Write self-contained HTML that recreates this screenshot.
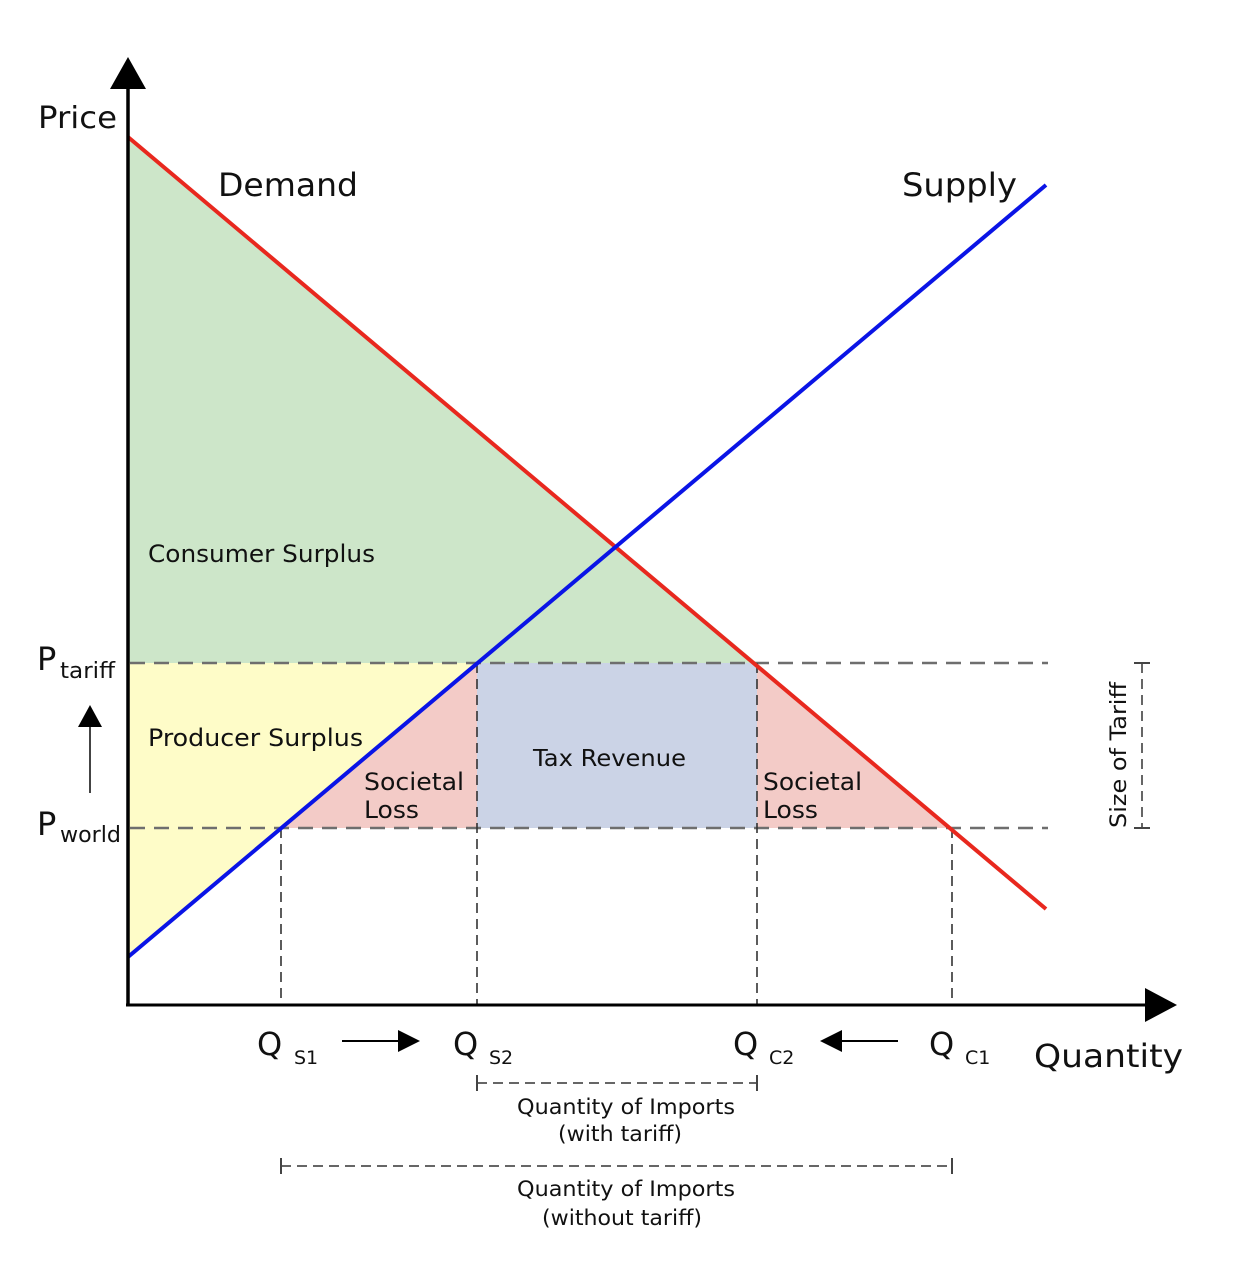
<!DOCTYPE html>
<html><head><meta charset="utf-8"><style>
html,body{margin:0;padding:0;background:#fff;}
svg{display:block;}
text{font-family:"DejaVu Sans","Liberation Sans",sans-serif;fill:#111;}
</style></head><body>
<svg width="1238" height="1274" viewBox="0 0 1238 1274" xmlns="http://www.w3.org/2000/svg">
<rect width="1238" height="1274" fill="#fff"/>
<polygon points="128,137 757,663 128,663" fill="#cde6c9"/>
<polygon points="128,663 477,663 128,957" fill="#fefcc8"/>
<polygon points="281,828 477,663 477,828" fill="#f3cbc7"/>
<rect x="477" y="663" width="280" height="165" fill="#cbd3e6"/>
<polygon points="757,663 950,828 757,828" fill="#f3cbc7"/>
<g stroke="#6e6e6e" stroke-width="2.5" stroke-dasharray="15,9" fill="none">
<line x1="130" y1="663" x2="1048" y2="663"/>
<line x1="130" y1="828" x2="1048" y2="828"/>
</g>
<g stroke="#333" stroke-width="1.6" stroke-dasharray="10,6" fill="none">
<line x1="281" y1="828" x2="281" y2="1005"/>
<line x1="477" y1="663" x2="477" y2="1005"/>
<line x1="757" y1="663" x2="757" y2="1005"/>
<line x1="952" y1="828" x2="952" y2="1005"/>
</g>
<line x1="128" y1="137" x2="1046" y2="909" stroke="#e8281e" stroke-width="4"/>
<line x1="128" y1="957" x2="1046" y2="185" stroke="#0a14e6" stroke-width="4"/>
<line x1="128" y1="80" x2="128" y2="1006" stroke="#000" stroke-width="3.5"/>
<line x1="126" y1="1005" x2="1150" y2="1005" stroke="#000" stroke-width="3"/>
<polygon points="128,57 146,89 110,89" fill="#000"/>
<polygon points="1177,1005 1145,988 1145,1022" fill="#000"/>
<line x1="90" y1="793" x2="90" y2="722" stroke="#444" stroke-width="2"/>
<polygon points="90,705 102,727 78,727" fill="#000"/>
<line x1="342" y1="1041" x2="402" y2="1041" stroke="#000" stroke-width="2"/>
<polygon points="420,1041 398,1030 398,1052" fill="#000"/>
<line x1="898" y1="1041" x2="838" y2="1041" stroke="#000" stroke-width="2"/>
<polygon points="820,1041 842,1030 842,1052" fill="#000"/>
<g stroke="#666" stroke-width="2" fill="none">
<line x1="477" y1="1083" x2="757" y2="1083" stroke-dasharray="10,6"/>
<line x1="281" y1="1166" x2="952" y2="1166" stroke-dasharray="10,6"/>
<line x1="1142" y1="663" x2="1142" y2="828" stroke-dasharray="10,6"/>
</g>
<g stroke="#444" stroke-width="2">
<line x1="477" y1="1075" x2="477" y2="1091"/><line x1="757" y1="1075" x2="757" y2="1091"/>
<line x1="281" y1="1158" x2="281" y2="1174"/><line x1="952" y1="1158" x2="952" y2="1174"/>
<line x1="1134" y1="663" x2="1150" y2="663"/><line x1="1134" y1="828" x2="1150" y2="828"/>
</g>
<g lengthAdjust="spacingAndGlyphs">
<text x="38" y="128" font-size="30" textLength="79" lengthAdjust="spacingAndGlyphs">Price</text>
<text x="218" y="196" font-size="32" textLength="140" lengthAdjust="spacingAndGlyphs">Demand</text>
<text x="902" y="196" font-size="32" textLength="115" lengthAdjust="spacingAndGlyphs">Supply</text>
<text x="148" y="562" font-size="24" textLength="227" lengthAdjust="spacingAndGlyphs">Consumer Surplus</text>
<text x="148" y="746" font-size="24" textLength="215" lengthAdjust="spacingAndGlyphs">Producer Surplus</text>
<text x="364" y="790" font-size="24" textLength="100" lengthAdjust="spacingAndGlyphs">Societal</text>
<text x="364" y="818" font-size="24" textLength="55" lengthAdjust="spacingAndGlyphs">Loss</text>
<text x="763" y="790" font-size="24" textLength="99" lengthAdjust="spacingAndGlyphs">Societal</text>
<text x="763" y="818" font-size="24" textLength="55" lengthAdjust="spacingAndGlyphs">Loss</text>
<text x="533" y="766" font-size="23" textLength="153" lengthAdjust="spacingAndGlyphs">Tax Revenue</text>
<text x="37" y="670" font-size="32">P</text><text x="60" y="678" font-size="22" textLength="55" lengthAdjust="spacingAndGlyphs">tariff</text>
<text x="37" y="835" font-size="32">P</text><text x="60" y="842" font-size="22" textLength="61" lengthAdjust="spacingAndGlyphs">world</text>
<text x="257" y="1055" font-size="32">Q</text><text x="294" y="1064" font-size="19">S1</text>
<text x="453" y="1055" font-size="32">Q</text><text x="489" y="1064" font-size="19">S2</text>
<text x="733" y="1055" font-size="32">Q</text><text x="769" y="1064" font-size="19">C2</text>
<text x="929" y="1055" font-size="32">Q</text><text x="965" y="1064" font-size="19">C1</text>
<text x="1034" y="1067" font-size="32" textLength="149" lengthAdjust="spacingAndGlyphs">Quantity</text>
<text x="517" y="1114" font-size="21" textLength="218" lengthAdjust="spacingAndGlyphs">Quantity of Imports</text>
<text x="558" y="1141" font-size="21" textLength="124" lengthAdjust="spacingAndGlyphs">(with tariff)</text>
<text x="517" y="1196" font-size="21" textLength="218" lengthAdjust="spacingAndGlyphs">Quantity of Imports</text>
<text x="542" y="1225" font-size="21" textLength="160" lengthAdjust="spacingAndGlyphs">(without tariff)</text>
<text x="0" y="0" font-size="22" textLength="146" lengthAdjust="spacingAndGlyphs" transform="translate(1126,828) rotate(-90)">Size of Tariff</text>
</g>
</svg>
</body></html>
